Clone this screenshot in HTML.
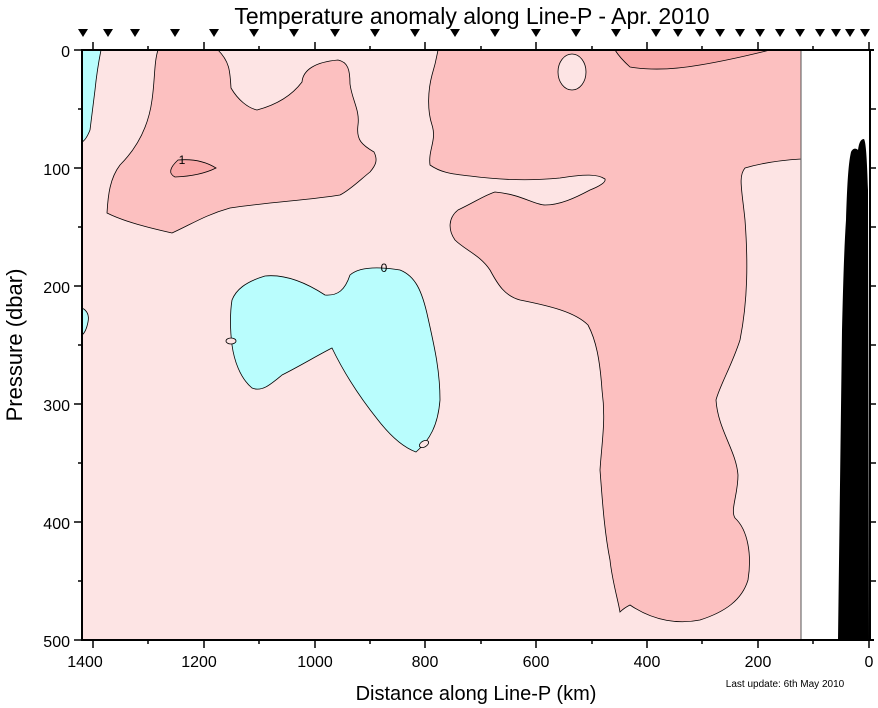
<!DOCTYPE html>
<html><head><meta charset="utf-8"><style>
body{margin:0;background:#fff;}
svg{display:block;font-family:"Liberation Sans",Arial,sans-serif;}
</style></head><body>
<svg width="878" height="708" viewBox="0 0 878 708" xmlns="http://www.w3.org/2000/svg">
<rect width="878" height="708" fill="#fff"/>
<text x="472" y="24" font-size="23" text-anchor="middle">Temperature anomaly along Line-P - Apr. 2010</text>
<g fill="#000">
<path d="M78,29h10l-5,8z"/><path d="M103,29h10l-5,8z"/><path d="M130,29h10l-5,8z"/><path d="M170,29h10l-5,8z"/><path d="M209,29h10l-5,8z"/><path d="M249,29h10l-5,8z"/><path d="M289,29h10l-5,8z"/><path d="M330,29h10l-5,8z"/><path d="M370,29h10l-5,8z"/><path d="M410,29h10l-5,8z"/><path d="M450,29h10l-5,8z"/><path d="M490,29h10l-5,8z"/><path d="M531,29h10l-5,8z"/><path d="M571,29h10l-5,8z"/><path d="M611,29h10l-5,8z"/><path d="M651,29h10l-5,8z"/><path d="M673,29h10l-5,8z"/><path d="M695,29h10l-5,8z"/><path d="M715,29h10l-5,8z"/><path d="M735,29h10l-5,8z"/><path d="M755,29h10l-5,8z"/><path d="M775,29h10l-5,8z"/><path d="M795,29h10l-5,8z"/><path d="M815,29h10l-5,8z"/><path d="M831,29h10l-5,8z"/><path d="M845,29h10l-5,8z"/><path d="M860,29h10l-5,8z"/>
</g>
<rect x="82" y="50" width="719" height="590" fill="#fde4e4"/>
<g stroke="#000" stroke-width="0.8">
<path fill="#b9fdfd" d="M82,50 L101,50 Q97,70 95,90 L90,130 Q86,140 82,142 Z"/>
<path fill="#b9fdfd" d="M82,308 Q90,312 88,322 Q86,332 82,335 Z"/>
<path fill="#fcc0c0" d="M158,50 L218,50 C230,62 230,72 231,88 C238,100 248,108 257,110 C272,106 290,98 302,82 C303,70 315,62 338,60 C348,62 350,70 350,84 C352,100 360,110 358,125 C356,140 362,145 374,152 C378,160 376,165 370,172 C360,180 350,190 340,195 C310,200 270,202 230,208 C205,215 190,225 172,233 C150,228 125,222 107,213 C108,195 110,178 120,165 C135,150 148,130 152,100 C155,80 154,62 158,50 Z"/>
<path fill="#f9a9a9" d="M178,160 Q200,158 216,168 Q200,176 175,177 Q165,172 178,160 Z"/>
<path fill="#fcc0c0" d="M438,50 L801,50 L801,159 C785,160 765,162 745,168 C738,176 742,190 745,220 C748,260 748,300 740,340 C732,365 720,385 716,400 C718,430 736,450 738,475 C738,495 730,510 735,518 C748,530 752,555 748,580 C742,600 725,612 700,620 C680,624 655,622 630,605 C624,608 620,612 620,612 C618,600 612,580 610,560 C604,530 602,495 600,470 C602,440 606,420 602,390 C600,360 596,340 588,325 C575,312 550,306 520,300 C505,296 498,285 490,270 C480,255 465,250 455,240 C448,230 448,218 458,210 C475,202 485,195 495,192 C520,194 535,205 545,205 C560,205 575,198 590,190 C600,186 606,182 605,179 C598,174 585,174 560,178 C530,181 500,180 470,176 C450,174 440,172 430,165 C428,150 437,140 432,125 C427,110 428,90 432,75 C436,62 437,55 438,50 Z"/>
<ellipse cx="572" cy="72" rx="14" ry="18" fill="#fde4e4"/>
<path fill="#f9a9a9" d="M615,50 L770,50 Q730,60 700,65 Q660,72 630,67 Q620,58 615,50 Z"/>
<path fill="#b9fdfd" d="M232,300 C236,290 245,282 265,276 C285,274 305,282 325,295 C338,296 345,290 350,275 C358,268 375,266 400,270 C415,276 422,290 428,318 C434,345 440,370 440,400 C438,425 430,440 416,452 C405,448 392,438 378,420 C362,400 345,375 332,348 C318,355 300,366 282,375 C270,385 262,392 252,388 C240,378 234,360 232,345 C230,330 230,312 232,300 Z"/>
<ellipse cx="231" cy="341" rx="5" ry="3" fill="#fde4e4"/>
<ellipse cx="424" cy="444" rx="5" ry="3" fill="#fde4e4" transform="rotate(-30 424 444)"/>
</g>
<text x="182" y="164" font-size="12" text-anchor="middle">1</text>
<text x="384" y="272" font-size="12" text-anchor="middle">0</text>
<path d="M838,640 L842,330 C843,290 844,250 846,220 C847,190 848,165 851,152 C853,148 856,148 858,150 C859,142 861,139 864,139 C866,142 867,160 868,190 L869,640 Z" fill="#000"/>
<line x1="801" y1="50" x2="801" y2="640" stroke="#555" stroke-width="1"/>
<g stroke="#000" stroke-width="2" fill="none">
<line x1="82" y1="49" x2="82" y2="641"/>
<line x1="870" y1="49" x2="870" y2="641"/>
<line x1="81" y1="640" x2="874" y2="640"/>
<line x1="81" y1="50" x2="874" y2="50"/>
</g>
<g stroke="#000" stroke-width="1.5">
<line x1="74" y1="50" x2="82" y2="50"/><line x1="74" y1="168" x2="82" y2="168"/><line x1="74" y1="286" x2="82" y2="286"/><line x1="74" y1="404" x2="82" y2="404"/><line x1="74" y1="522" x2="82" y2="522"/><line x1="74" y1="640" x2="82" y2="640"/>
<line x1="78" y1="109" x2="82" y2="109"/><line x1="78" y1="227" x2="82" y2="227"/><line x1="78" y1="345" x2="82" y2="345"/><line x1="78" y1="463" x2="82" y2="463"/><line x1="78" y1="581" x2="82" y2="581"/>
<line x1="870" y1="109" x2="876" y2="109"/><line x1="870" y1="168" x2="876" y2="168"/><line x1="870" y1="227" x2="876" y2="227"/><line x1="870" y1="286" x2="876" y2="286"/><line x1="870" y1="345" x2="876" y2="345"/><line x1="870" y1="404" x2="876" y2="404"/><line x1="870" y1="463" x2="876" y2="463"/><line x1="870" y1="522" x2="876" y2="522"/><line x1="870" y1="581" x2="876" y2="581"/>
</g>
<g stroke="#000" stroke-width="1.5">
<line x1="93" y1="640" x2="93" y2="648"/><line x1="204" y1="640" x2="204" y2="648"/><line x1="315" y1="640" x2="315" y2="648"/><line x1="425" y1="640" x2="425" y2="648"/><line x1="536" y1="640" x2="536" y2="648"/><line x1="647" y1="640" x2="647" y2="648"/><line x1="758" y1="640" x2="758" y2="648"/><line x1="869" y1="640" x2="869" y2="648"/>
<line x1="148" y1="640" x2="148" y2="644"/><line x1="259" y1="640" x2="259" y2="644"/><line x1="370" y1="640" x2="370" y2="644"/><line x1="481" y1="640" x2="481" y2="644"/><line x1="592" y1="640" x2="592" y2="644"/><line x1="702" y1="640" x2="702" y2="644"/><line x1="813" y1="640" x2="813" y2="644"/>
<line x1="93" y1="42" x2="93" y2="50"/><line x1="148" y1="46" x2="148" y2="50"/><line x1="204" y1="42" x2="204" y2="50"/><line x1="259" y1="46" x2="259" y2="50"/><line x1="315" y1="42" x2="315" y2="50"/><line x1="370" y1="46" x2="370" y2="50"/><line x1="425" y1="42" x2="425" y2="50"/><line x1="481" y1="46" x2="481" y2="50"/><line x1="536" y1="42" x2="536" y2="50"/><line x1="592" y1="46" x2="592" y2="50"/><line x1="647" y1="42" x2="647" y2="50"/><line x1="702" y1="46" x2="702" y2="50"/><line x1="758" y1="42" x2="758" y2="50"/><line x1="813" y1="46" x2="813" y2="50"/><line x1="869" y1="42" x2="869" y2="50"/>
</g>
<g font-size="16" text-anchor="end">
<text x="70" y="57">0</text><text x="70" y="175">100</text><text x="70" y="293">200</text><text x="70" y="411">300</text><text x="70" y="529">400</text><text x="70" y="647">500</text>
</g>
<g font-size="16" text-anchor="middle">
<text x="85" y="667">1400</text><text x="199" y="667">1200</text><text x="315" y="667">1000</text><text x="425" y="667">800</text><text x="536" y="667">600</text><text x="647" y="667">400</text><text x="758" y="667">200</text><text x="869" y="667">0</text>
</g>
<text x="476" y="700" font-size="20" text-anchor="middle">Distance along Line-P (km)</text>
<text x="785" y="687" font-size="10" text-anchor="middle">Last update: 6th May 2010</text>
<text transform="translate(22,345) rotate(-90)" font-size="22" text-anchor="middle">Pressure (dbar)</text>
</svg>
</body></html>
